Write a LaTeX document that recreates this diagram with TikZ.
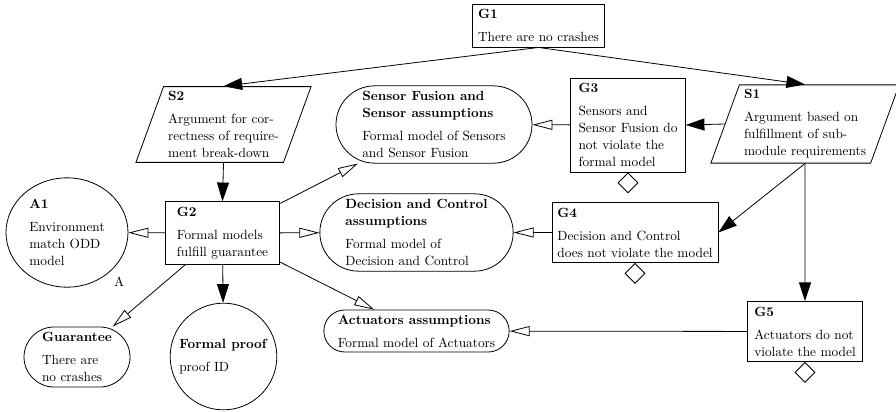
\documentclass[tikz,border=0pt]{standalone}
\usepackage{amsmath,amssymb}
\usetikzlibrary{positioning,shapes.geometric,arrows.meta}

\tikzset{
  goalbox/.style={draw, rectangle, align=left, minimum width=86pt, inner sep=4pt},
  stratbox/.style={draw, trapezium, trapezium left angle=70, trapezium right angle=110,
    align=left, inner sep=3.5pt},
  assumbox/.style={draw, rectangle, rounded corners=#1, align=left},
  ctxoval/.style={draw, ellipse, align=left, inner sep=1pt},
  solcirc/.style={draw, circle, align=left, inner sep=1pt},
  undev/.style={draw, diamond, minimum size=15pt, inner sep=0pt},
  arrowin/.style={-{Triangle[length=14pt,width=9pt]}},
  ctxarrow/.style={-{Triangle[open,length=15pt,width=7.5pt]}},
  every node/.style={font=\fontsize{10}{12.75}\selectfont}
}

\begin{document}
\begin{tikzpicture}[x=0.75pt,y=-0.75pt,line width=0.6pt]
\useasboundingbox (0,0) rectangle (896,411);
% goals
\node[goalbox] (G1) at (538.5,25.5) {\textbf{G1}\\[4.5pt]There are no crashes};
\node[goalbox] (G2) at (222.5,233) {\textbf{G2}\\[4.5pt]Formal models\\fulfill guarantee};
\node[goalbox] (G3) at (628,125) {\textbf{G3}\\[4.5pt]Sensors and\\Sensor Fusion do\\not violate the\\formal model};
\node[goalbox] (G4) at (635,232.5) {\textbf{G4}\\[4.5pt]Decision and Control\\does not violate the model};
\node[goalbox] (G5) at (805,331.5) {\textbf{G5}\\[4.5pt]Actuators do not\\violate the model};
% strategies
\node[stratbox] (S2) at (223.5,124.5) {\textbf{S2}\\[4.5pt]Argument for cor-\\rectness of require-\\ment break-down};
\node[stratbox] (S1) at (805,124) {\textbf{S1}\\[4.5pt]Argument based on\\fulfillment of sub-\\module requirements};
% assumptions and context
\node[assumbox=29pt, minimum width=147pt, minimum height=58pt] (SF) at (434,124.5)
  {\textbf{Sensor Fusion and}\\\textbf{Sensor assumptions}\\[4.5pt]Formal model of Sensors\\and Sensor Fusion};
\node[assumbox=29pt, minimum width=145pt, minimum height=58pt] (DC) at (416.5,232.5)
  {\textbf{Decision and Control}\\\textbf{assumptions}\\[4.5pt]Formal model of\\Decision and Control};
\node[assumbox=15.75pt, minimum width=139pt, minimum height=31.5pt] (Act) at (416.5,331)
  {\textbf{Actuators assumptions}\\[4.5pt]Formal model of Actuators};
\node[assumbox=22.5pt, minimum width=79.5pt, minimum height=45pt] (Guar) at (77,357)
  {\textbf{Guarantee}\\[4.5pt]There are\\no crashes};
\node[ctxoval, minimum width=91.5pt, minimum height=82pt] (A1) at (67,232.5)
  {\textbf{A1}\\[4.5pt]Environment\\match ODD\\model};
\node (Alabel) at (119,282) {A};
\node[solcirc, minimum size=80pt] (FP) at (223.5,356.5) {\textbf{Formal proof}\\[4.5pt]proof ID};
% undeveloped marks
\node[undev, below=0pt of G3] (G3u) {};
\node[undev, below=0pt of G4] (G4u) {};
\node[undev, below=0pt of G5] (G5u) {};
% connectors
\draw[arrowin] (G1.south) -- (S2.north);
\draw[arrowin] (G1.south) -- (S1.north);
\draw[arrowin] (S2.south) -- (G2.north);
\draw[arrowin] (S1.west) -- (G3.east);
\draw[arrowin] (S1.south) -- (G4.east);
\draw[arrowin] (S1.south) -- (G5.north);
\draw[arrowin] (G2) -- (FP);
\draw[ctxarrow] (G3) -- (SF);
\draw[ctxarrow] (G4) -- (DC);
\draw[ctxarrow] (G5) -- (Act);
\draw[ctxarrow] (G2) -- (A1);
\draw[ctxarrow] (G2) -- (DC);
\draw[ctxarrow] (G2) -- (SF);
\draw[ctxarrow] (G2) -- (Act);
\draw[ctxarrow] (G2) -- (Guar);
\end{tikzpicture}
\end{document}
